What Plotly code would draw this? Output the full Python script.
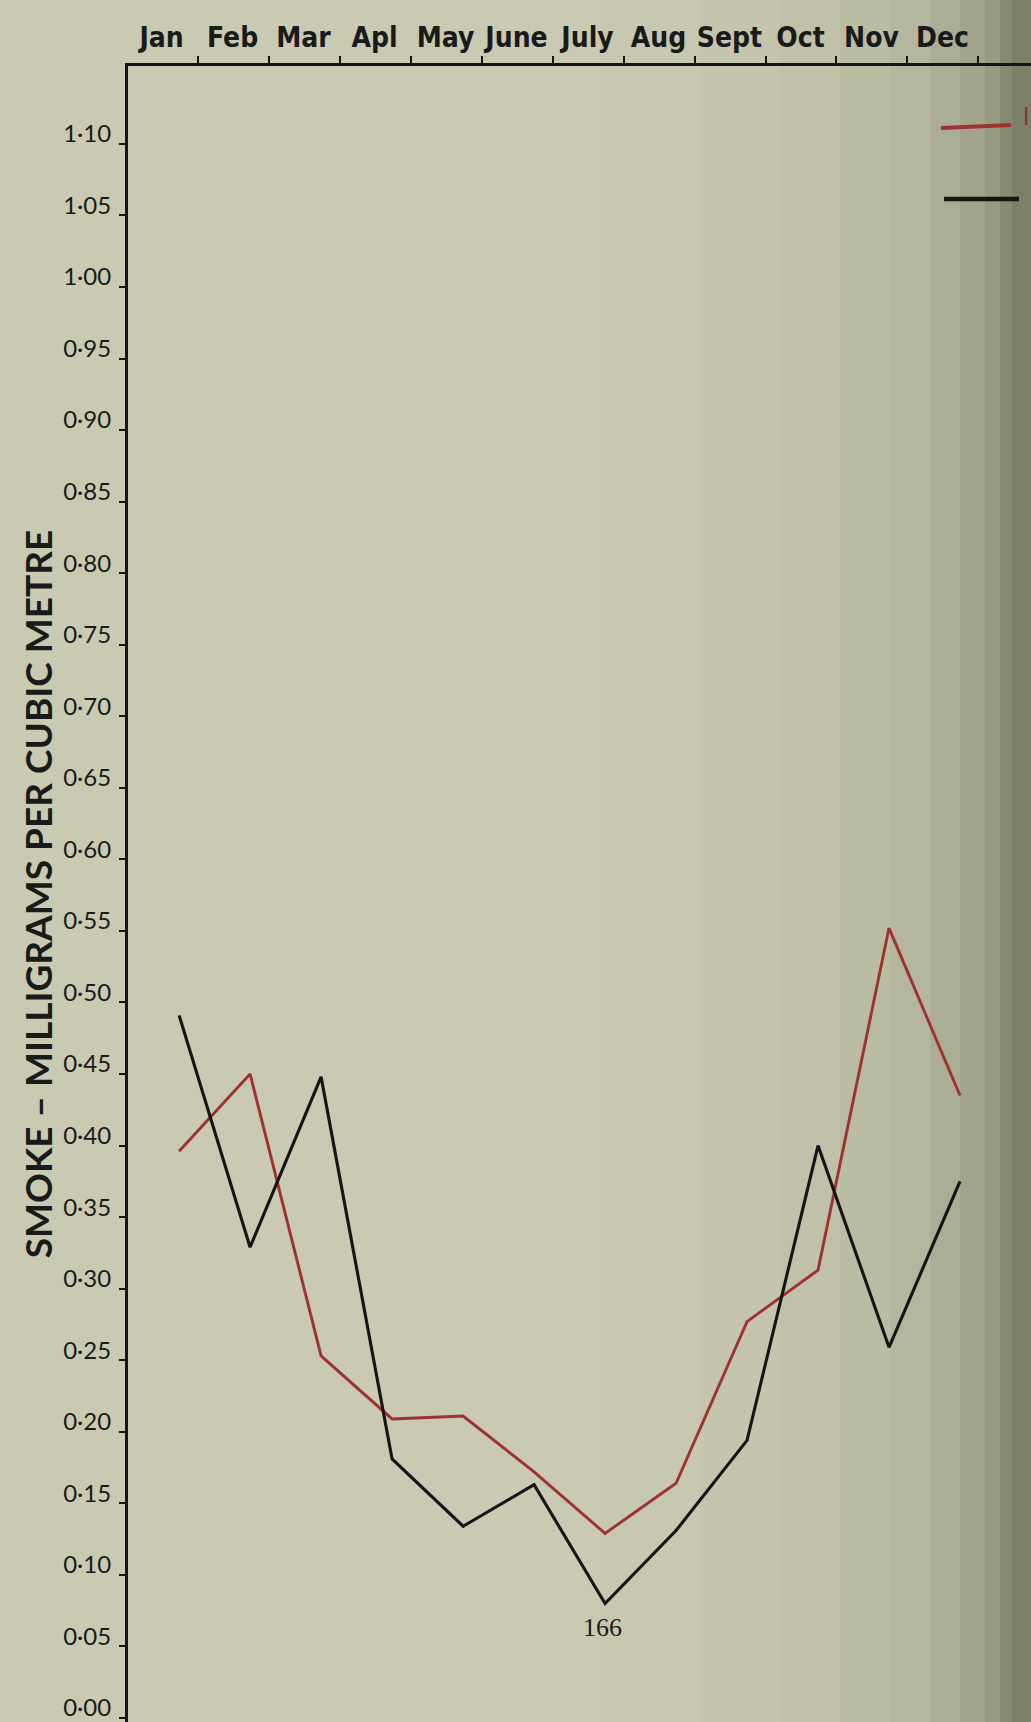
import plotly.graph_objects as go

months = ["Jan", "Feb", "Mar", "Apl", "May", "June", "July", "Aug", "Sept", "Oct", "Nov", "Dec"]
month_pos = [1, 2, 3, 4, 5, 6, 7, 8, 9, 10, 11, 12]
month_ticks = [1.26, 2.26, 3.26, 4.26, 5.26, 6.26, 7.26, 8.26, 9.26, 10.26, 11.26, 12.26]

red_series = [0.396, 0.450, 0.253, 0.209, 0.211, 0.172, 0.129, 0.164, 0.277, 0.313, 0.552, 0.435]
black_series = [0.491, 0.329, 0.448, 0.181, 0.134, 0.163, 0.080, 0.131, 0.194, 0.400, 0.259, 0.375]

y_tickvals = [0.00, 0.05, 0.10, 0.15, 0.20, 0.25, 0.30, 0.35, 0.40, 0.45, 0.50, 0.55,
              0.60, 0.65, 0.70, 0.75, 0.80, 0.85, 0.90, 0.95, 1.00, 1.05, 1.10]
y_ticktext = ["0·00", "0·05", "0·10", "0·15", "0·20", "0·25", "0·30", "0·35", "0·40", "0·45",
              "0·50", "0·55", "0·60", "0·65", "0·70", "0·75", "0·80", "0·85", "0·90", "0·95",
              "1·00", "1·05", "1·10"]

RED = "#9c3330"
BLACK = "#161414"
BG = "#c9cab1"

W, H = 1031, 1722
L, T = 128, 66
PW, PH = W - L, H - T


def px_x(px):
    return (px - L) / PW


def px_y(py):
    return (H - py) / PH


fig = go.Figure()
fig.add_trace(go.Scatter(x=month_pos, y=red_series, mode="lines",
                         line=dict(color=RED, width=2.9), showlegend=False))
fig.add_trace(go.Scatter(x=month_pos, y=black_series, mode="lines",
                         line=dict(color=BLACK, width=3.1), showlegend=False))

fig.update_layout(
    width=W, height=H,
    margin=dict(l=L, r=0, t=T, b=0, pad=0, autoexpand=False),
    paper_bgcolor=BG, plot_bgcolor="rgba(0,0,0,0)",
    showlegend=False,
    xaxis=dict(
        side="top", range=[0.28, 13.0], showgrid=False, zeroline=False,
        showline=True, linecolor=BLACK, linewidth=3, mirror=False, automargin=False,
        tickmode="array", tickvals=month_ticks, ticktext=months,
        ticks="outside", ticklen=7, tickwidth=1.5, tickcolor=BLACK,
        ticklabelshift=-36, ticklabelstandoff=-2,
        tickfont=dict(family="DejaVu Sans Condensed", size=28, weight="bold", color="#1a1a1a"),
    ),
    yaxis=dict(
        range=[-0.0028, 1.1544], showgrid=False, zeroline=False, automargin=False,
        showline=True, linecolor=BLACK, linewidth=3,
        tickmode="array", tickvals=y_tickvals, ticktext=y_ticktext,
        ticks="outside", ticklen=6, tickwidth=1.5, tickcolor=BLACK,
        ticklabelshift=-10, ticklabelstandoff=3, ticklabeloverflow="allow",
        tickfont=dict(family="Lato", size=24, color="#1a1a1a"),
        title=dict(text="SMOKE – MILLIGRAMS PER CUBIC METRE", standoff=0,
                   font=dict(family="Lato", size=37, weight="bold", color="#1a1a1a")),
    ),
)

# paper shading towards the right edge (scan of a bound page)
bands = [(600, 700, "#c7c8af"), (700, 780, "#c4c5ac"), (780, 840, "#c0c1a8"),
         (840, 890, "#bbbda3"), (890, 930, "#b4b69d"), (930, 960, "#abae95"),
         (960, 985, "#a2a58c"), (985, 1000, "#979a82"), (1000, 1012, "#868a70"),
         (1012, 1031, "#7b8066")]
for x0, x1, c in bands:
    fig.add_shape(type="rect", xref="paper", yref="paper", layer="below",
                  x0=px_x(x0), x1=px_x(x1), y0=-0.01, y1=1.05,
                  line=dict(width=0), fillcolor=c)

# legend swatches (cropped legend at right edge)
fig.add_shape(type="line", xref="paper", yref="paper",
              x0=px_x(941), x1=px_x(1011), y0=px_y(128), y1=px_y(125),
              line=dict(color=RED, width=4))
fig.add_shape(type="line", xref="paper", yref="paper",
              x0=px_x(944), x1=px_x(1019), y0=px_y(199), y1=px_y(199),
              line=dict(color=BLACK, width=4.5))
fig.add_annotation(xref="paper", yref="paper", x=px_x(1031), y=px_y(117),
                   xanchor="right", yanchor="middle", text="I", showarrow=False,
                   font=dict(family="DejaVu Sans Condensed", size=24, color="#8c2a45"))

# page number
fig.add_annotation(xref="paper", yref="paper", x=px_x(602), y=px_y(1627),
                   xanchor="center", yanchor="middle", text="166", showarrow=False,
                   font=dict(family="Liberation Serif", size=26, color="#1a1a1a"))

fig.write_html("out.html", config={"displayModeBar": False},
               post_script="document.body.style.margin='0';")
